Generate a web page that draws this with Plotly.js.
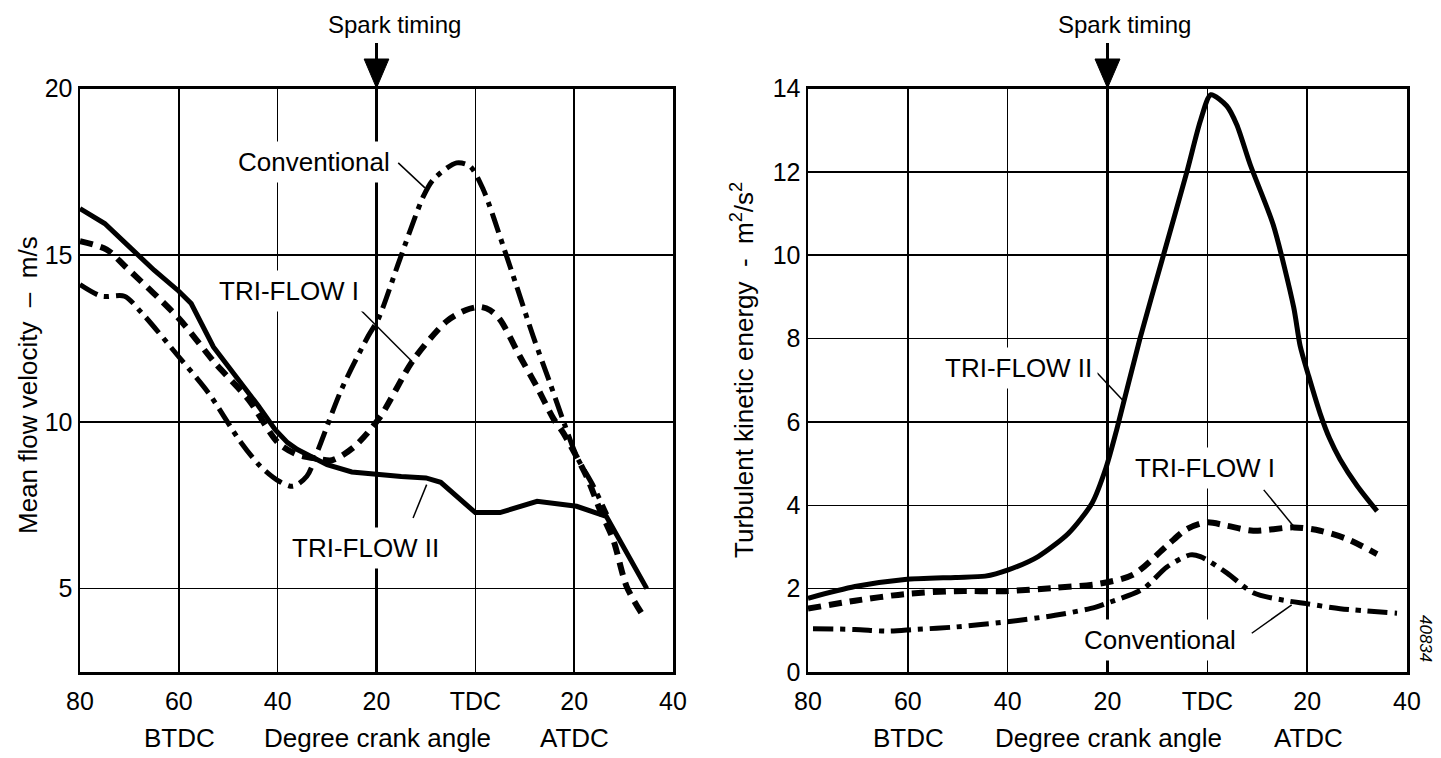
<!DOCTYPE html>
<html>
<head>
<meta charset="utf-8">
<script src="https://cdn.plot.ly/plotly-3.0.1.min.js"></script>
<style>html,body{margin:0;padding:0;background:#fff;}#chart{width:1441px;height:758px;}</style>
</head>
<body>
<div id="chart"></div>
<script>
// ---------- Data: left chart (mean flow velocity, m/s) ----------
const velTF2_x = [-80, -75, -70, -65, -60, -57.5, -53, -48, -44, -40.5, -38, -36, -33, -30, -25, -20, -15, -10, -7, 0, 5, 12.5, 20.5, 26.5, 34.7];
const velTF2_y = [16.4, 15.95, 15.25, 14.55, 13.92, 13.55, 12.25, 11.3, 10.5, 9.77, 9.38, 9.17, 8.93, 8.72, 8.5, 8.42, 8.36, 8.32, 8.19, 7.28, 7.28, 7.62, 7.47, 7.17, 5.0];

const velTF1_x = [-80, -74.6, -70.9, -60.1, -52.7, -45.9, -39.9, -36, -32, -29, -24.7, -19.5, -12.5, -5.8, -2, 1, 3, 5, 9, 12.4, 15.8, 17.8, 22.5, 25.2, 27.9, 30.6, 33.6];
const velTF1_y = [15.42, 15.17, 14.67, 13.12, 11.77, 10.67, 9.37, 9.02, 8.9, 8.85, 9.23, 10.1, 11.87, 13.02, 13.35, 13.45, 13.35, 13.07, 11.97, 11.07, 10.1, 9.67, 8.37, 7.37, 6.47, 5.07, 4.27];

const velConv_x = [-80, -75.6, -71, -67.5, -60.1, -54, -47.5, -43.5, -39.7, -36.9, -34.1, -31.8, -27.1, -21.7, -19.6, -15.3, -10.5, -8.5, -3.8, -1.1, 1.6, 5.65, 8.35, 11.7, 15.1, 18, 20.5, 23.9, 26.6];
const velConv_y = [14.12, 13.77, 13.77, 13.27, 11.97, 10.87, 9.4, 8.67, 8.22, 8.07, 8.37, 9.17, 10.97, 12.57, 13.1, 14.87, 16.77, 17.27, 17.77, 17.67, 16.97, 15.27, 14.07, 12.57, 11.17, 9.95, 8.97, 8.07, 7.22];

// ---------- Data: right chart (turbulent kinetic energy, m2/s2) ----------
const tkeTF2_x = [-80, -70.6, -60.6, -50.5, -44.5, -39.9, -33.9, -27.8, -23.1, -20.3, -18.1, -13.5, -8.8, -4.1, -1.4, 0.7, 3.9, 5.9, 8.6, 13.2, 17.3, 18.6, 20.3, 22.6, 24.5, 26.6, 30, 34];
const tkeTF2_y = [1.77, 2.05, 2.22, 2.27, 2.3, 2.45, 2.77, 3.33, 4.05, 4.9, 5.84, 8.0, 10.0, 12.0, 13.22, 13.85, 13.58, 13.13, 12.17, 10.73, 8.75, 7.82, 7.1, 6.2, 5.6, 5.1, 4.47, 3.86];

const tkeTF1_x = [-80, -70.6, -60.6, -50.5, -40.5, -30.5, -21.5, -14.8, -8.1, -4.1, -0.1, 3.9, 9.2, 17.3, 22.6, 28, 34];
const tkeTF1_y = [1.52, 1.71, 1.87, 1.94, 1.94, 2.02, 2.12, 2.34, 3.03, 3.43, 3.59, 3.51, 3.39, 3.47, 3.39, 3.19, 2.83];

const tkeConv_x = [-79, -70.6, -63.9, -58.6, -50.5, -40.5, -30.5, -22.5, -20.1, -12.8, -8.1, -3.4, -1.4, 3.9, 9.2, 15.9, 19.9, 26.6, 38];
const tkeConv_y = [1.04, 1.02, 0.98, 1.02, 1.08, 1.2, 1.36, 1.55, 1.65, 2.0, 2.52, 2.81, 2.77, 2.38, 1.9, 1.71, 1.64, 1.52, 1.41];

// ---------- Axis ticks ----------
const crankTickVals = [-80, -60, -40, -20, 0, 20, 40];
const crankTickText = ['80', '60', '40', '20', 'TDC', '20', '40'];
const velTickVals = [5, 10, 15, 20];
const tkeTickVals = [0, 2, 4, 6, 8, 10, 12, 14];
const sparkAngle = -20;

// ---------- Styles ----------
const FONT = '"Liberation Sans", Arial, Helvetica, sans-serif';
const solid = {color: '#000', width: 5};
const dashed = {color: '#000', width: 6, dash: '13px,8px'};
const dashdot = {color: '#000', width: 5, dash: '20px,7px,5px,7px'};

const traces = [
  {x: velTF2_x, y: velTF2_y, xaxis: 'x', yaxis: 'y', mode: 'lines', name: 'TRI-FLOW II', line: Object.assign({shape: 'linear'}, solid)},
  {x: velTF1_x, y: velTF1_y, xaxis: 'x', yaxis: 'y', mode: 'lines', name: 'TRI-FLOW I', line: Object.assign({shape: 'spline', smoothing: 0.8}, dashed)},
  {x: velConv_x, y: velConv_y, xaxis: 'x', yaxis: 'y', mode: 'lines', name: 'Conventional', line: Object.assign({shape: 'spline', smoothing: 0.8}, dashdot)},
  {x: tkeTF2_x, y: tkeTF2_y, xaxis: 'x2', yaxis: 'y2', mode: 'lines', name: 'TRI-FLOW II', line: Object.assign({shape: 'spline', smoothing: 0.7}, solid)},
  {x: tkeTF1_x, y: tkeTF1_y, xaxis: 'x2', yaxis: 'y2', mode: 'lines', name: 'TRI-FLOW I', line: Object.assign({shape: 'spline', smoothing: 0.8}, dashed)},
  {x: tkeConv_x, y: tkeConv_y, xaxis: 'x2', yaxis: 'y2', mode: 'lines', name: 'Conventional', line: Object.assign({shape: 'spline', smoothing: 0.8}, dashdot)}
];

const W = 1441, H = 758;
const yDom = [(H - 672) / H, (H - 88.5) / H];

function xAxis(domain, anchor) {
  return {
    domain: domain, anchor: anchor, range: [-80, 40],
    tickmode: 'array', tickvals: crankTickVals, ticktext: crankTickText,
    ticks: '', ticklabelstandoff: 5,
    tickfont: {family: FONT, size: 25, color: '#000'},
    showgrid: true, gridcolor: '#000', gridwidth: 1.5,
    zeroline: false, showline: true, mirror: true, linecolor: '#000', linewidth: 2.5,
    fixedrange: true
  };
}
function yAxis(range, vals, anchor) {
  return {
    domain: yDom, anchor: anchor, range: range,
    tickmode: 'array', tickvals: vals,
    ticks: '', ticklabelstandoff: 0,
    tickfont: {family: FONT, size: 25, color: '#000'},
    showgrid: true, gridcolor: '#000', gridwidth: 1.5,
    zeroline: false, showline: true, mirror: true, linecolor: '#000', linewidth: 2.5,
    fixedrange: true
  };
}

const lblFont = {family: FONT, size: 26, color: '#000'};
function label(text, xref, yref, x, y) {
  return {text: text, xref: xref, yref: yref, x: x, y: y, showarrow: false,
          xanchor: 'center', yanchor: 'middle', font: lblFont,
          bgcolor: '#fff', borderpad: 5};
}
function plain(text, x, y, size, angle) {
  return {text: text, xref: 'paper', yref: 'paper', x: x, y: y, showarrow: false,
          xanchor: 'center', yanchor: 'middle', textangle: angle || 0,
          font: {family: FONT, size: size, color: '#000'}};
}
function leader(xref, yref, x0, y0, x1, y1) {
  return {type: 'line', xref: xref, yref: yref, x0: x0, y0: y0, x1: x1, y1: y1,
          line: {color: '#000', width: 1.5}, layer: 'above'};
}
const arrowTop = (H - 43) / H, headTop = (H - 59) / H, headTip = (H - 88) / H;
function sparkShapes(xref) {
  return [
    {type: 'line', xref: xref, yref: 'paper', x0: sparkAngle, x1: sparkAngle, y0: yDom[0], y1: arrowTop,
     line: {color: '#000', width: 3}, layer: 'below'},
    {type: 'path', xref: xref, yref: 'paper',
     path: 'M ' + (sparkAngle - 2.5) + ',' + headTop + ' L ' + (sparkAngle + 2.5) + ',' + headTop + ' L ' + sparkAngle + ',' + headTip + ' Z',
     fillcolor: '#000', line: {color: '#000', width: 1}, layer: 'above'}
  ];
}

const layout = {
  width: W, height: H, margin: {l: 0, r: 0, t: 0, b: 0},
  paper_bgcolor: '#fff', plot_bgcolor: '#fff', showlegend: false,
  font: {family: FONT, color: '#000', size: 25},
  xaxis: xAxis([80 / W, 673 / W], 'y'),
  yaxis: yAxis([2.5, 20], velTickVals, 'x'),
  xaxis2: xAxis([808 / W, 1407 / W], 'y2'),
  yaxis2: yAxis([0, 14], tkeTickVals, 'x2'),
  shapes: [].concat(
    sparkShapes('x'), sparkShapes('x2'),
    [
      leader('x', 'y', -15.6, 17.77, -10.2, 17.02),
      leader('x', 'y', -23.3, 13.37, -12.8, 11.81),
      leader('x', 'y', -12.6, 7.12, -9.85, 8.12),
      leader('x2', 'y2', -22.1, 7.18, -16.8, 6.5),
      leader('x2', 'y2', 11.3, 4.37, 17.6, 3.45),
      leader('x2', 'y2', 8.9, 0.93, 16.9, 1.61)
    ]
  ),
  annotations: [
    label('Conventional', 'x', 'y', -32.6, 17.81),
    label('TRI-FLOW I', 'x', 'y', -37.8, 13.94),
    label('TRI-FLOW II', 'x', 'y', -22.3, 6.23),
    label('TRI-FLOW II', 'x2', 'y2', -37.9, 7.3),
    label('TRI-FLOW I', 'x2', 'y2', -0.5, 4.9),
    label('Conventional', 'x2', 'y2', -9.5, 0.77),
    {text: 'Spark timing', xref: 'x', yref: 'paper', x: -16.3, y: (H - 24) / H, showarrow: false,
     xanchor: 'center', yanchor: 'middle', font: {family: FONT, size: 24, color: '#000'}},
    {text: 'Spark timing', xref: 'x2', yref: 'paper', x: -16.5, y: (H - 24) / H, showarrow: false,
     xanchor: 'center', yanchor: 'middle', font: {family: FONT, size: 24, color: '#000'}},
    plain('Mean flow velocity  \u2013  m/s', 28 / W, (H - 385) / H, 26, -90),
    plain('Turbulent kinetic energy  -  m<sup>2</sup>/s<sup>2</sup>', 742 / W, (H - 370) / H, 26, -90),
    plain('BTDC', 179 / W, (H - 738) / H, 26),
    plain('Degree crank angle', 377 / W, (H - 738) / H, 26),
    plain('ATDC', 574 / W, (H - 738) / H, 26),
    plain('BTDC', 908 / W, (H - 738) / H, 26),
    plain('Degree crank angle', 1108 / W, (H - 738) / H, 26),
    plain('ATDC', 1308 / W, (H - 738) / H, 26),
    plain('<i>40834</i>', 1426 / W, (H - 638) / H, 17, 90)
  ]
};

Plotly.newPlot('chart', traces, layout, {staticPlot: true, displayModeBar: false});
</script>
</body>
</html>
